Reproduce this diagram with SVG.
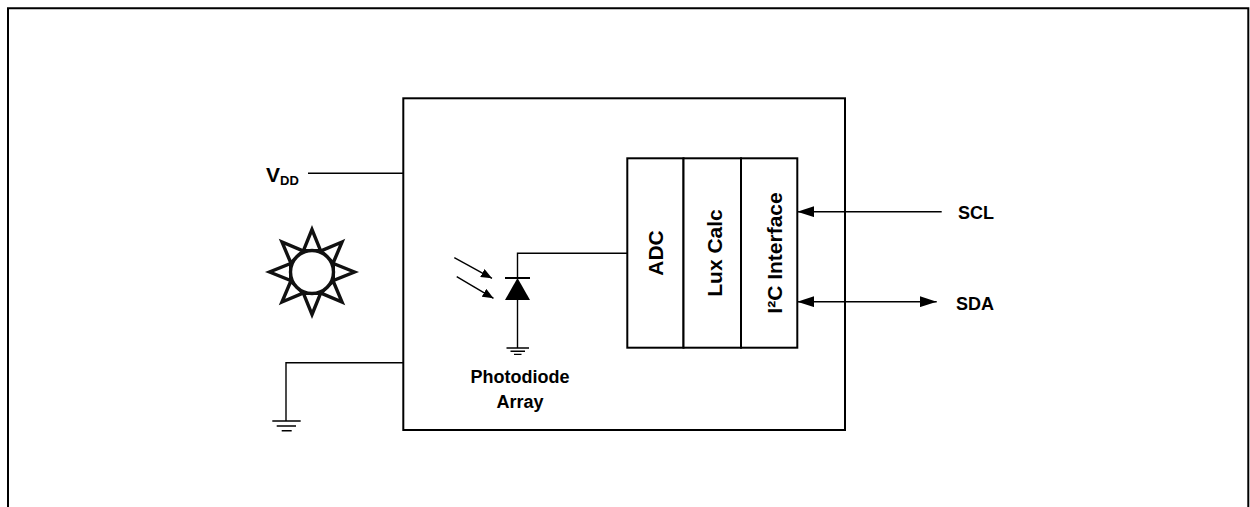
<svg xmlns="http://www.w3.org/2000/svg" width="1250" height="507" viewBox="0 0 1250 507">
<style>
.ln{fill:none;stroke:#000;stroke-width:1.4}
.bx{fill:#fff;stroke:#000;stroke-width:2}
.t{font-family:"Liberation Sans",Arial,sans-serif;font-weight:bold;fill:#000}
.sun{fill:#fff;stroke:#111;stroke-width:3.4;stroke-linejoin:miter}
</style>
<defs>
<marker id="ah" markerUnits="userSpaceOnUse" markerWidth="17" markerHeight="11" refX="17" refY="5.5" orient="auto-start-reverse" viewBox="0 0 17 11">
<path d="M0,0 L17,5.5 L0,11 z" fill="#000"/>
</marker>
<marker id="sa" markerUnits="userSpaceOnUse" markerWidth="11" markerHeight="9" refX="11" refY="4.5" orient="auto" viewBox="0 0 11 9">
<path d="M0,0 L11,4.5 L0,9 z" fill="#000"/>
</marker>
<polygon id="ray" points="312,229.5 303.4,250.7 320.6,250.7"/>
</defs>
<g id="frame"><path d="M8,507 V8.3 H1248.3 V507" fill="none" stroke="#000" stroke-width="2"/></g>
<g id="device"><rect x="403.3" y="98.3" width="441.7" height="331.7" class="bx"/></g>
<g id="vdd">
<text class="t" x="266" y="182" font-size="21">V<tspan font-size="13" dy="3">DD</tspan></text>
</g>
<g id="sun">
<use href="#ray" class="sun"/>
<use href="#ray" class="sun" transform="rotate(45 312 272)"/>
<use href="#ray" class="sun" transform="rotate(90 312 272)"/>
<use href="#ray" class="sun" transform="rotate(135 312 272)"/>
<use href="#ray" class="sun" transform="rotate(180 312 272)"/>
<use href="#ray" class="sun" transform="rotate(225 312 272)"/>
<use href="#ray" class="sun" transform="rotate(270 312 272)"/>
<use href="#ray" class="sun" transform="rotate(315 312 272)"/>
<circle cx="312" cy="272" r="21.5" class="sun"/>
</g>
<g id="ground-ext">
<path class="ln" d="M272.3,421 H300.7 M276.7,426 H296 M281.7,430.7 H291.7"/>
</g>
<g id="photodiode">
<path d="M505,278 H530" stroke="#000" stroke-width="2"/>
<polygon points="517.5,278 505,300 530,300" fill="#000"/>
<path class="ln" d="M506.5,348 H529 M510.5,351.2 H525 M514,354.4 H521.5"/>
<text class="t" x="520" y="383" font-size="18" text-anchor="middle">Photodiode</text>
<text class="t" x="520" y="408" font-size="18" text-anchor="middle">Array</text>
</g>
<g id="adc">
<rect x="627.3" y="158.3" width="56.2" height="189.4" class="bx"/>
<text class="t" font-size="21" text-anchor="middle" transform="translate(663 253) rotate(-90)">ADC</text>
</g>
<g id="luxcalc">
<rect x="683.5" y="158.3" width="57.5" height="189.4" class="bx"/>
<text class="t" font-size="21" text-anchor="middle" transform="translate(721.5 253) rotate(-90)">Lux Calc</text>
</g>
<g id="i2c">
<rect x="741" y="158.3" width="56.3" height="189.4" class="bx"/>
<text class="t" font-size="21" text-anchor="middle" transform="translate(781.5 253) rotate(-90)">I²C Interface</text>
</g>
<g id="scl"><text class="t" x="958" y="218.5" font-size="18">SCL</text></g>
<g id="sda"><text class="t" x="956" y="310" font-size="18">SDA</text></g>
<g id="connectors">
<path class="ln" d="M308,173.3 H403.3"/>
<path class="ln" d="M403.3,362.7 H286 V421"/>
<path class="ln" d="M627.3,253.3 H517.5 V278"/>
<path class="ln" d="M517.5,300 V348"/>
<path class="ln" d="M454.3,257.7 L492,278.3" marker-end="url(#sa)"/>
<path class="ln" d="M456.7,276.7 L493.5,298.3" marker-end="url(#sa)"/>
<path class="ln" d="M941.7,211.7 H797.3" marker-end="url(#ah)"/>
<path class="ln" d="M797.3,301.7 H936.7" marker-start="url(#ah)" marker-end="url(#ah)"/>
</g>
</svg>
